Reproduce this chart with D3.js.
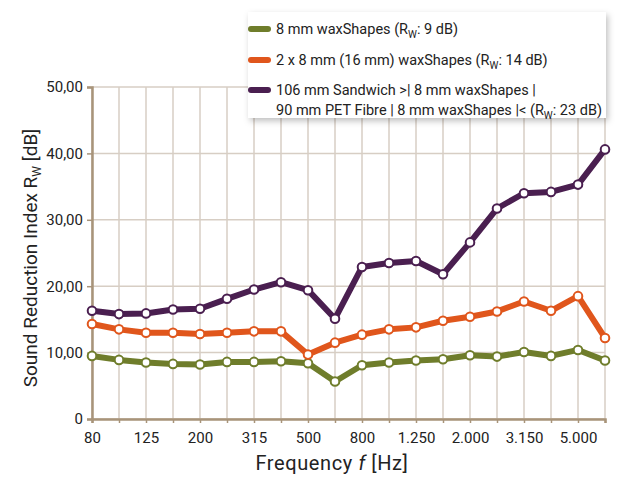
<!DOCTYPE html>
<html>
<head>
<meta charset="utf-8">
<script src="https://cdn.jsdelivr.net/npm/d3@7"></script>
<style>
  body { margin: 0; background: #fff; }
  svg text { font-family: Roboto, "DejaVu Sans", sans-serif; fill: #222; }
</style>
</head>
<body>
<div id="chart"></div>
<script>
// basic dimensions
var width = 619;
var height = 478;
var margin = { top: 87, right: 14, bottom: 59, left: 92 };

// DATA
var freqs = [80, 100, 125, 160, 200, 250, 315, 400, 500, 630, 800, 1000, 1250, 1600, 2000, 2500, 3150, 4000, 5000, 6300];
var tickLabels = ["80", "", "125", "", "200", "", "315", "", "500", "", "800", "", "1.250", "", "2.000", "", "3.150", "", "5.000", ""];
var yTicks = [0, 10, 20, 30, 40, 50];

var waxShapes8 = [9.5, 8.9, 8.5, 8.3, 8.2, 8.6, 8.6, 8.7, 8.4, 5.65, 8.1, 8.5, 8.8, 9.0, 9.6, 9.4, 10.1, 9.5, 10.4, 8.8];
var waxShapes16 = [14.3, 13.5, 13.0, 13.0, 12.8, 13.0, 13.2, 13.2, 9.7, 11.5, 12.7, 13.5, 13.8, 14.8, 15.4, 16.2, 17.7, 16.3, 18.5, 12.2];
var sandwich106 = [16.3, 15.8, 15.9, 16.5, 16.6, 18.1, 19.5, 20.6, 19.4, 15.1, 22.9, 23.5, 23.8, 21.8, 26.6, 31.7, 34.0, 34.2, 35.3, 40.6];

var seriesNames = [
    ["8 mm waxShapes (R", "W", ": 9 dB)"],
    ["2 x 8 mm (16 mm) waxShapes (R", "W", ": 14 dB)"],
    ["106 mm Sandwich >| 8 mm waxShapes |", "90 mm PET Fibre | 8 mm waxShapes |< (R", "W", ": 23 dB)"]
];
var seriesColours = ["#6f7d2b", "#e0561c", "#4a1f50"];

var series = [waxShapes8, waxShapes16, sandwich106].map(function(v, i) {
    return { values: v, colour: seriesColours[i] };
});

var innerW = width - margin.left - margin.right;
var innerH = height - margin.top - margin.bottom;

// SCALES
var xScale = d3.scalePoint().domain(freqs).range([0, innerW]);
var yScale = d3.scaleLinear().domain([0, 50]).range([innerH, 0]);

var svg = d3.select("#chart")
    .append("svg")
    .attr("width", width)
    .attr("height", height);

var defs = svg.append("defs");
var shadow = defs.append("filter").attr("id", "shadow")
    .attr("x", "-10%").attr("y", "-10%").attr("width", "130%").attr("height", "140%");
shadow.append("feDropShadow").attr("dx", 2).attr("dy", 3).attr("stdDeviation", 3)
    .attr("flood-color", "#000").attr("flood-opacity", 0.25);

var g = svg.append("g")
    .attr("transform", "translate(" + margin.left + "," + margin.top + ")");

// grid lines
g.append("g").selectAll("line.v")
    .data(freqs)
    .enter().append("line")
    .attr("x1", function(d) { return xScale(d); })
    .attr("x2", function(d) { return xScale(d); })
    .attr("y1", 0).attr("y2", innerH)
    .attr("stroke", "#d7cec4").attr("stroke-width", 1.5);

g.append("g").selectAll("line.h")
    .data(yTicks)
    .enter().append("line")
    .attr("x1", 0).attr("x2", innerW)
    .attr("y1", function(d) { return yScale(d); })
    .attr("y2", function(d) { return yScale(d); })
    .attr("stroke", "#d7cec4").attr("stroke-width", 1.5);

// axes
var yAxis = g.append("g")
    .call(d3.axisLeft(yScale).tickValues(yTicks).tickSize(5).tickPadding(4)
        .tickFormat(function(d) { return d === 0 ? "0" : d3.format(".2f")(d).replace(".", ","); }));
var xAxis = g.append("g")
    .attr("transform", "translate(0," + innerH + ")")
    .call(d3.axisBottom(xScale).tickSize(4).tickPadding(9)
        .tickFormat(function(d, i) { return tickLabels[i]; }));

[yAxis, xAxis].forEach(function(a) {
    a.select(".domain").attr("stroke", "#a8947a").attr("stroke-width", 2.5);
    a.selectAll(".tick line").attr("stroke", "#a8947a").attr("stroke-width", 1.5);
    a.selectAll("text").style("font-size", "15px").attr("fill", "#222");
});

// lines
var lineGen = d3.line()
    .x(function(d, i) { return xScale(freqs[i]); })
    .y(function(d) { return yScale(d); });

var groups = g.selectAll(".lineGroup")
    .data(series)
    .enter().append("g")
    .attr("class", "lineGroup");

groups.append("path")
    .attr("d", function(d) { return lineGen(d.values); })
    .attr("fill", "none")
    .attr("stroke", function(d) { return d.colour; })
    .attr("stroke-width", 6)
    .attr("stroke-linejoin", "round");

groups.selectAll("circle")
    .data(function(d) { return d.values.map(function(v, i) { return { v: v, i: i, c: d.colour }; }); })
    .enter().append("circle")
    .attr("cx", function(d) { return xScale(freqs[d.i]); })
    .attr("cy", function(d) { return yScale(d.v); })
    .attr("r", 4.3)
    .attr("fill", "#fff")
    .attr("stroke", function(d) { return d.c; })
    .attr("stroke-width", 2);

// axis titles
svg.append("text")
    .attr("x", 332).attr("y", 470)
    .attr("text-anchor", "middle")
    .style("font-size", "20px")
    .style("letter-spacing", "0.6px")
    .html('Frequency <tspan font-style="italic">f</tspan> [Hz]');

svg.append("text")
    .attr("transform", "translate(37,258) rotate(-90)")
    .attr("text-anchor", "middle")
    .style("font-size", "19px")
    .html('Sound Reduction Index R<tspan font-size="12px" dy="4">W</tspan><tspan dy="-4"> [dB]</tspan>');

// legend
var legend = svg.append("g").attr("transform", "translate(248,12)");
legend.append("rect")
    .attr("width", 358).attr("height", 106)
    .attr("fill", "#fff")
    .attr("filter", "url(#shadow)");

var rowY = [17, 48, 78];
series.forEach(function(s, i) {
    var row = legend.append("g").attr("transform", "translate(0," + rowY[i] + ")");
    row.append("line")
        .attr("x1", 3).attr("x2", 20)
        .attr("stroke", s.colour).attr("stroke-width", 6).attr("stroke-linecap", "round");
    var n = seriesNames[i];
    if (n.length === 3) {
        row.append("text").attr("x", 28).attr("dy", "0.35em").style("font-size", "14.5px")
            .html(n[0] + '<tspan font-size="10px" dy="4">' + n[1] + '</tspan><tspan dy="-4">' + n[2] + '</tspan>');
    } else {
        row.append("text").attr("x", 28).attr("dy", "0.35em").style("font-size", "14.5px").text(n[0]);
        row.append("text").attr("x", 28).attr("y", 20).attr("dy", "0.35em").style("font-size", "14.5px")
            .html(n[1] + '<tspan font-size="10px" dy="4">' + n[2] + '</tspan><tspan dy="-4">' + n[3] + '</tspan>');
    }
});
</script>
</body>
</html>
